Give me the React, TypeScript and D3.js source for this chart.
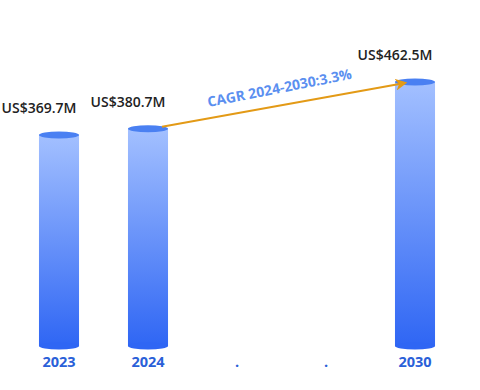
import React from 'react'
import * as d3 from 'd3'

const categories = ['2023', '2024', '.', '..', '2030']
const tickLabels = ['2023', '2024', '.', '.', '2030']
const values = [369.7, 380.7, null, null, 462.5]
const valueLabels = ['US$369.7M', 'US$380.7M', '', '', 'US$462.5M']
const cagrLabel = 'CAGR 2024-2030:3.3%'

const width = 480
const height = 390

const App = () => {
  const x = d3.scaleBand().domain(categories).range([14.5, 459.5]).paddingInner(0.55).paddingOuter(0.275)
  const y = d3.scaleLinear().domain([0, 462.5]).range([346, 82])
  const bw = x.bandwidth()
  const ry = 3.5

  const bars = categories.map((c, i) => ({ c, v: values[i], label: valueLabels[i] })).filter(d => d.v != null)

  // cagr arrow from 2024 top to 2030 top
  const x0 = (x('2024') as number) + bw * 0.85
  const y0 = y(380.7) - 2
  const x1 = (x('2030') as number) + bw * 0.25
  const y1 = y(462.5) + 1
  const angle = Math.atan2(y1 - y0, x1 - x0) * 180 / Math.PI
  const mx = (x0 + x1) / 2
  const my = (y0 + y1) / 2

  return (
    <svg width={width} height={height} style={{ position: 'absolute', left: 0, top: 0 }}>
      <defs>
        <linearGradient id="barGrad" x1="0" y1="0" x2="0" y2="1">
          <stop offset="0%" stopColor="#a3c0ff" />
          <stop offset="100%" stopColor="#2f66f4" />
        </linearGradient>
        <marker id="arrow" viewBox="0 0 10 10" refX="8" refY="5" markerWidth="6" markerHeight="6" orient="auto">
          <path d="M0,0 L10,5 L0,10 L3,5 Z" fill="#e39a16" />
        </marker>
      </defs>
      {bars.map(d => {
        const bx = x(d.c) as number
        const top = y(d.v as number)
        const base = y(0)
        return (
          <g key={d.c}>
            <rect x={bx} y={top} width={bw} height={base - top} fill="url(#barGrad)" />
            <ellipse cx={bx + bw / 2} cy={base} rx={bw / 2} ry={ry} fill="#2f66f4" />
            <ellipse cx={bx + bw / 2} cy={top} rx={bw / 2} ry={ry} fill="#4a80f2" />
            <text x={bx} y={top - 22} textAnchor="middle" fontFamily="'Open Sans', sans-serif"
              fontWeight={600} fontSize={14} fill="#222">{d.label}</text>
          </g>
        )
      })}
      <line x1={x0} y1={y0} x2={x1} y2={y1} stroke="#e39a16" strokeWidth={2} markerEnd="url(#arrow)" />
      <text transform={`translate(${mx - 3},${my - 12}) rotate(${angle - 1})`} textAnchor="middle"
        fontFamily="'Open Sans', sans-serif" fontWeight={700} fontSize={14} fill="#5b8ff0">{cagrLabel}</text>
      {categories.map((c, i) => (
        <text key={c} x={(x(c) as number) + bw / 2} y={367} textAnchor="middle"
          fontFamily="'Open Sans', sans-serif" fontWeight={700} fontSize={14.5} fill="#2a60d8">{tickLabels[i]}</text>
      ))}
    </svg>
  )
}

export default App
